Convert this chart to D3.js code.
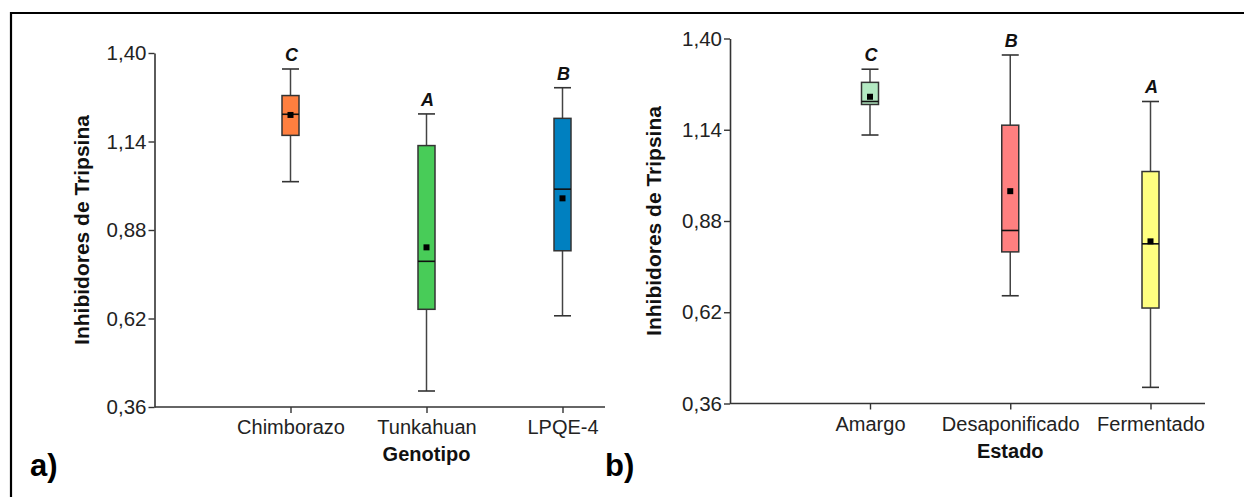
<!DOCTYPE html>
<html>
<head>
<meta charset="utf-8">
<script src="https://cdn.jsdelivr.net/npm/d3@7"></script>
<style>
  html, body { margin: 0; padding: 0; background: #fff; }
  svg { display: block; }
  text { font-family: "Liberation Sans", Arial, sans-serif; }
</style>
</head>
<body>
<svg id="chart" width="1244" height="497"></svg>
<script>
// ---------- DATA ----------
const yTickValues = [0.36, 0.62, 0.88, 1.14, 1.40];
const yTitle = "Inhibidores de Tripsina";

// Panel a) Genotipo
const genotipos       = ["Chimborazo", "Tunkahuan", "LPQE-4"];
const genotipoMin     = [1.022, 0.407, 0.628];
const genotipoQ1      = [1.158, 0.647, 0.819];
const genotipoMedian  = [1.220, 0.788, 1.000];
const genotipoMean    = [1.218, 0.829, 0.973];
const genotipoQ3      = [1.275, 1.128, 1.208];
const genotipoMax     = [1.353, 1.221, 1.298];
const genotipoLetters = ["C", "A", "B"];
const genotipoColors  = ["#FF7F3F", "#48CC58", "#0080C0"];

// Panel b) Estado
const estados         = ["Amargo", "Desaponificado", "Fermentado"];
const estadoMin       = [1.125, 0.667, 0.406];
const estadoQ1        = [1.212, 0.792, 0.632];
const estadoMedian    = [1.2205, 0.853, 0.815];
const estadoMean      = [1.234, 0.965, 0.822];
const estadoQ3        = [1.275, 1.153, 1.021];
const estadoMax       = [1.3125, 1.353, 1.2205];
const estadoLetters   = ["C", "B", "A"];
const estadoColors    = ["#B3E9C2", "#FF8080", "#FFFF80"];

// ---------- LAYOUT ----------
const svg = d3.select("#chart");
const locale = d3.formatLocale({decimal: ",", thousands: ".", grouping: [3], currency: ["", ""]});
const fmt = locale.format(".2f");

// outer frame (top + left lines)
svg.append("line").attr("x1", 10).attr("x2", 1244).attr("y1", 13).attr("y2", 13)
  .attr("stroke", "#000").attr("stroke-width", 2.2);
svg.append("line").attr("x1", 11).attr("x2", 11).attr("y1", 12).attr("y2", 497)
  .attr("stroke", "#000").attr("stroke-width", 2.2);

const panels = [
  { label: "a)", labelX: 30, labelY: 476, xTitle: "Genotipo",
    cats: genotipos, min: genotipoMin, q1: genotipoQ1, med: genotipoMedian, mean: genotipoMean,
    q3: genotipoQ3, max: genotipoMax, letters: genotipoLetters, colors: genotipoColors,
    axisX: 154.5, axisEnd: 605, firstX: 290.5, lastX: 562.5, yTop: 53, yBottom: 407, yTitleX: 89 },
  { label: "b)", labelX: 605, labelY: 476, xTitle: "Estado",
    cats: estados, min: estadoMin, q1: estadoQ1, med: estadoMedian, mean: estadoMean,
    q3: estadoQ3, max: estadoMax, letters: estadoLetters, colors: estadoColors,
    axisX: 730, axisEnd: 1205, firstX: 870, lastX: 1150.5, yTop: 38.5, yBottom: 403.5, yTitleX: 661 }
];

const boxW = 17;
const axisColor = "#333";

panels.forEach(p => {
  const g = svg.append("g");
  const y = d3.scaleLinear().domain([0.36, 1.40]).range([p.yBottom, p.yTop]);
  const x = d3.scalePoint().domain(p.cats).range([p.firstX, p.lastX]);

  // y axis
  const ya = g.append("g").attr("transform", `translate(${p.axisX},0)`)
    .call(d3.axisLeft(y).tickValues(yTickValues).tickFormat(fmt).tickSize(6).tickSizeOuter(0).tickPadding(2));
  ya.select(".domain").attr("stroke", axisColor).attr("stroke-width", 1.6);
  ya.selectAll(".tick line").attr("stroke", axisColor).attr("stroke-width", 1.4);
  ya.selectAll(".tick text").attr("font-size", 20.5).attr("fill", "#222")
    .attr("font-family", "Liberation Sans, Arial, sans-serif");

  // x axis
  const xa = g.append("g").attr("transform", `translate(0,${p.yBottom})`)
    .call(d3.axisBottom(x).tickSize(6).tickSizeOuter(0).tickPadding(7));
  xa.select(".domain").remove();
  xa.selectAll(".tick line").attr("stroke", axisColor).attr("stroke-width", 1.4);
  xa.selectAll(".tick text").attr("font-size", 20).attr("fill", "#222")
    .attr("font-family", "Liberation Sans, Arial, sans-serif");
  g.append("line").attr("x1", p.axisX).attr("x2", p.axisEnd)
    .attr("y1", p.yBottom).attr("y2", p.yBottom)
    .attr("stroke", axisColor).attr("stroke-width", 1.6);

  // axis titles
  g.append("text").attr("x", x(p.cats[1])).attr("y", p.yBottom + 54)
    .attr("text-anchor", "middle").attr("font-size", 20).attr("font-weight", "bold")
    .attr("fill", "#111").text(p.xTitle);
  g.append("text")
    .attr("transform", `translate(${p.yTitleX},${(p.yTop + p.yBottom) / 2}) rotate(-90)`)
    .attr("text-anchor", "middle").attr("font-size", 21).attr("font-weight", "bold")
    .attr("fill", "#111").text(yTitle);

  // panel label
  svg.append("text").attr("x", p.labelX).attr("y", p.labelY)
    .attr("font-size", 31).attr("font-weight", "bold").attr("fill", "#000").text(p.label);

  // boxes
  const rows = p.cats.map((c, i) => ({
    c, min: p.min[i], q1: p.q1[i], med: p.med[i], mean: p.mean[i], q3: p.q3[i], max: p.max[i],
    letter: p.letters[i], color: p.colors[i]
  }));
  const bg = g.selectAll("g.box").data(rows).join("g").attr("class", "box");

  // whiskers
  bg.append("line").attr("x1", d => x(d.c)).attr("x2", d => x(d.c))
    .attr("y1", d => y(d.max)).attr("y2", d => y(d.q3))
    .attr("stroke", "#444").attr("stroke-width", 1.5);
  bg.append("line").attr("x1", d => x(d.c)).attr("x2", d => x(d.c))
    .attr("y1", d => y(d.q1)).attr("y2", d => y(d.min))
    .attr("stroke", "#444").attr("stroke-width", 1.5);
  // caps
  bg.append("line").attr("x1", d => x(d.c) - boxW / 2).attr("x2", d => x(d.c) + boxW / 2)
    .attr("y1", d => y(d.max)).attr("y2", d => y(d.max))
    .attr("stroke", "#333").attr("stroke-width", 1.6);
  bg.append("line").attr("x1", d => x(d.c) - boxW / 2).attr("x2", d => x(d.c) + boxW / 2)
    .attr("y1", d => y(d.min)).attr("y2", d => y(d.min))
    .attr("stroke", "#333").attr("stroke-width", 1.6);
  // box
  bg.append("rect").attr("x", d => x(d.c) - boxW / 2).attr("width", boxW)
    .attr("y", d => y(d.q3)).attr("height", d => y(d.q1) - y(d.q3))
    .attr("fill", d => d.color).attr("stroke", "#333").attr("stroke-width", 1.5);
  // median
  bg.append("line").attr("x1", d => x(d.c) - boxW / 2).attr("x2", d => x(d.c) + boxW / 2)
    .attr("y1", d => y(d.med)).attr("y2", d => y(d.med))
    .attr("stroke", "#111").attr("stroke-width", 1.6);
  // mean
  bg.append("rect").attr("x", d => x(d.c) - 3).attr("y", d => y(d.mean) - 3)
    .attr("width", 6).attr("height", 6).attr("fill", "#000");
  // letters
  bg.append("text").attr("x", d => x(d.c) + 1).attr("y", d => y(d.max) - 8)
    .attr("text-anchor", "middle").attr("font-size", 18).attr("font-weight", "bold")
    .attr("font-style", "italic").attr("fill", "#111").text(d => d.letter);
});
</script>
</body>
</html>
